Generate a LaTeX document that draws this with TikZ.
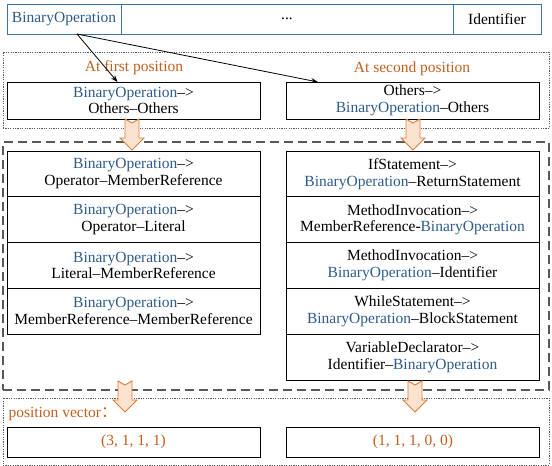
\documentclass[tikz,border=0pt]{standalone}
\usepackage{fontspec}
\setmainfont{Liberation Serif}
\newfontfamily\cjk{Noto Sans CJK SC}
\usetikzlibrary{positioning,arrows.meta}
\definecolor{opblue}{HTML}{2E5C8A}
\definecolor{barblue}{HTML}{41719C}
\definecolor{posorange}{HTML}{C0601E}
\definecolor{arrowline}{HTML}{E07B39}
\definecolor{arrowfill}{HTML}{FBE3D0}
\newcommand{\bop}{{\color{opblue}BinaryOperation}}

\begin{document}
\begin{tikzpicture}[x=1pt, y=-1pt, font=\fontsize{15.5}{16.8}\selectfont,
    bar/.style={rectangle, draw=barblue, line width=0.9pt, minimum height=30pt, inner sep=0pt, outer sep=0pt},
    cell/.style={rectangle, draw, line width=0.9pt, minimum width=253pt, minimum height=45.8pt, align=center, inner sep=0pt, outer sep=0pt},
    dotbox/.style={rectangle, draw=black!65, line width=0.8pt, dash pattern=on 1.2pt off 1.2pt, inner sep=0pt},
    dashbox/.style={rectangle, draw=black!65, line width=1.1pt, dash pattern=on 9pt off 5pt, inner sep=0pt},
    label/.style={text=posorange},
    link/.style={-{Stealth[length=7pt,width=5pt]}, line width=0.8pt},
    blockarrow/.pic={\draw[draw=arrowline, fill=arrowfill, line width=0.9pt, line join=miter]
        (-7,0) -- (0,4) -- (7,0) -- (7,19) -- (12,19) -- (0,31) -- (-12,19) -- (-7,19) -- cycle;}]
    \useasboundingbox (0,0) rectangle (552,466);

    % token sequence
    \node[bar, minimum width=114pt, text=opblue] (tokfirst) at (64,19) {BinaryOperation};
    \node[bar, minimum width=332pt, right=0pt of tokfirst] (tokdots) {...};
    \node[bar, minimum width=88pt, right=0pt of tokdots] (toklast) {Identifier};
    \coordinate (src) at ([xshift=13pt]tokfirst.south);

    % positions
    \node[dotbox, minimum width=546pt, minimum height=76pt] (posgroup) at (276,90) {};
    \node[label] (firstlbl) at (134,68) {At first position};
    \node[label] (secondlbl) at (412,69) {At second position};
    \node[cell, minimum height=37pt] (firstpos) at (133.5,100.5) {\bop–>\\Others–Others};
    \node[cell, minimum height=37pt] (secondpos) at (412.5,100.5) {Others–>\\\bop–Others};

    % paths
    \node[dashbox, minimum width=546pt, minimum height=248pt] (pathgroup) at (276,266) {};
    \node[cell] (left1) at (133.5,173.9) {\bop–>\\Operator–MemberReference};
    \node[cell, below=0pt of left1] (left2) {\bop–>\\Operator–Literal};
    \node[cell, below=0pt of left2] (left3) {\bop–>\\Literal–MemberReference};
    \node[cell, below=0pt of left3] (left4) {\bop–>\\MemberReference–MemberReference};
    \node[cell] (right1) at (412.5,173.9) {IfStatement–>\\\bop–ReturnStatement};
    \node[cell, below=0pt of right1] (right2) {MethodInvocation–>\\MemberReference-\bop};
    \node[cell, below=0pt of right2] (right3) {MethodInvocation–>\\\bop–Identifier};
    \node[cell, below=0pt of right3] (right4) {WhileStatement–>\\\bop–BlockStatement};
    \node[cell, below=0pt of right4] (right5) {VariableDeclarator–>\\Identifier–\bop};

    % vectors
    \node[dotbox, minimum width=546pt, minimum height=67pt] (vecgroup) at (276,431.5) {};
    \node[label, anchor=west] (veclbl) at (5,414) {position vector{\cjk ：}};
    \node[cell, minimum height=30pt, text=posorange] (vecleft) at (133.5,442) {(3, 1, 1, 1)};
    \node[cell, minimum height=30pt, text=posorange] (vecright) at (413,442) {(1, 1, 1, 0, 0)};

    \draw[link] (src) -- ([xshift=-16pt]firstpos.north);
    \draw[link] (src) -- ([xshift=32pt]secondpos.north west);

    \pic at (132,119) {blockarrow};
    \pic at (413,119) {blockarrow};
    \pic at (125,381) {blockarrow};
    \pic at (415,381) {blockarrow};
\end{tikzpicture}
\end{document}
